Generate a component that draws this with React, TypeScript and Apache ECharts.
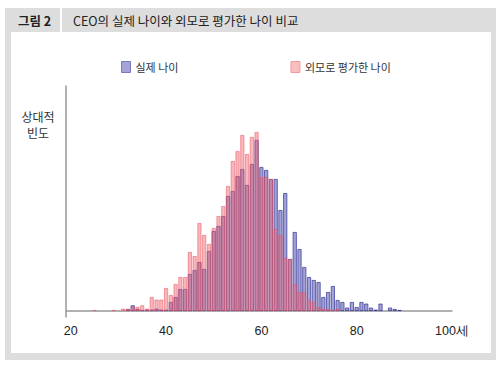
import React, { useEffect, useRef } from "react";
import * as echarts from "echarts";

// bin centre (age, 1-year bins)
const ages = [
  25, 26, 27, 28, 29, 30, 31, 32, 33, 34, 35, 36, 37, 38, 39, 40, 41, 42, 43, 44,
  45, 46, 47, 48, 49, 50, 51, 52, 53, 54, 55, 56, 57, 58, 59, 60, 61, 62, 63, 64,
  65, 66, 67, 68, 69, 70, 71, 72, 73, 74, 75, 76, 77, 78, 79, 80, 81, 82, 83, 84,
  85, 86, 87, 88, 89,
];
// relative frequency: actual age
const actualAge = [
  0, 0, 0, 0, 0, 0, 0, 2, 5.7, 2, 1, 1.4, 1.4, 2.4, 1.4, 1.4, 9, 14, 22, 22,
  37, 41, 49, 42, 60, 80, 85, 95, 115, 120, 135, 142, 126, 147, 171, 144, 141, 132, 132, 101,
  118, 52, 79, 62, 44, 34, 31, 29, 14, 19, 25, 11, 9, 3.4, 9, 4, 9, 7.4, 3.4, 1.4,
  7.4, 0, 3.4, 2, 1,
];
// relative frequency: age judged from appearance
const perceivedAge = [
  1, 0, 0, 0, 1, 0, 2.4, 2, 4.7, 4, 5.7, 2.4, 14, 11.4, 11.4, 23, 16, 27, 34, 34,
  59, 55, 88, 76, 67, 83, 95, 105, 125, 150, 160, 176, 157, 174, 179, 134, 134, 132, 82, 76,
  53, 52, 27, 19, 19, 11, 9, 4, 2, 2, 1, 2, 0, 0, 0, 0, 0, 0, 0, 0,
  0, 0, 0, 0, 0,
];
const xTicks = [20, 40, 60, 80, 100];
const seriesNames = ["실제 나이", "외모로 평가한 나이"];

const FONT = "'Noto Sans CJK KR', 'Noto Sans', sans-serif";

export default function App() {
  const ref = useRef<HTMLDivElement>(null);
  useEffect(() => {
    if (!ref.current) return;
    const chart = echarts.init(ref.current, undefined, { renderer: "svg" });
    const toData = (arr: number[]) =>
      ages.map((a, i) => [a, arr[i]]).filter((d) => d[1] > 0);
    chart.setOption({
      animation: false,
      backgroundColor: "#ffffff",
      graphic: [
        { type: "rect", z: -20, silent: true, shape: { x: 5, y: 8, width: 491, height: 352 }, style: { fill: "#dcdddc" } },
        { type: "rect", z: -19, silent: true, shape: { x: 11, y: 32, width: 480, height: 321 }, style: { fill: "#ffffff" } },
        { type: "rect", z: -19, silent: true, shape: { x: 60, y: 8, width: 2, height: 24 }, style: { fill: "#ffffff" } },
        {
          type: "text", z: 10, x: 18, y: 20,
          style: { text: "그림 2", font: `bold 12.5px ${FONT}`, fill: "#222", textVerticalAlign: "middle" },
        },
        {
          type: "text", z: 10, x: 73, y: 20,
          style: { text: "CEO의 실제 나이와 외모로 평가한 나이 비교", font: `12.5px ${FONT}`, fill: "#222", textVerticalAlign: "middle" },
        },
        {
          type: "text", z: 10, x: 38, y: 108,
          style: { text: "상대적\n빈도", font: `12px ${FONT}`, fill: "#333", textAlign: "center", lineHeight: 16 },
        },
      ],
      legend: {
        left: 116,
        top: 56,
        itemWidth: 9,
        itemHeight: 11,
        itemGap: 112,
        icon: "rect",
        textStyle: { fontFamily: FONT, fontSize: 11, color: "#333" },
        data: [
          { name: seriesNames[0], itemStyle: { color: "#a3a3d6", borderColor: "#7a7ac0", borderWidth: 1 } },
          { name: seriesNames[1], itemStyle: { color: "#f8bfc0", borderColor: "#f29aa0", borderWidth: 1 } },
        ],
      },
      grid: { left: 66, right: 50, top: 86, bottom: 48 },
      xAxis: {
        type: "value",
        min: 19,
        max: 100,
        interval: 1,
        axisLine: { show: true, lineStyle: { color: "#999", width: 1.5 } },
        axisTick: { show: false },
        splitLine: { show: false },
        axisLabel: {
          margin: 7,
          fontFamily: "'Liberation Sans', Arial, sans-serif",
          fontSize: 12.5,
          color: "#222",
          formatter: (v: number) =>
            xTicks.includes(v) ? (v === 100 ? `${v}세` : `${v}`) : "",
        },
      },
      yAxis: {
        type: "value",
        min: -6,
        max: 225,
        axisLine: { show: true, lineStyle: { color: "#999", width: 1.5 } },
        axisTick: { show: false },
        axisLabel: { show: false },
        splitLine: { show: false },
      },
      series: [
        {
          name: seriesNames[0],
          type: "bar",
          barWidth: 4.1,
          barGap: "-100%",
          data: toData(actualAge),
          itemStyle: { color: "rgba(70,70,170,0.5)", borderColor: "rgba(45,45,150,0.85)", borderWidth: 0.8 },
        },
        {
          name: seriesNames[1],
          type: "bar",
          barWidth: 4.1,
          barGap: "-100%",
          data: toData(perceivedAge),
          itemStyle: { color: "rgba(240,95,105,0.45)", borderColor: "rgba(235,80,95,0.65)", borderWidth: 0.8 },
        },
      ],
    });
    return () => chart.dispose();
  }, []);
  return (
    <div
      ref={ref}
      style={{ position: "fixed", left: 0, top: 0, width: 502, height: 365 }}
    />
  );
}
